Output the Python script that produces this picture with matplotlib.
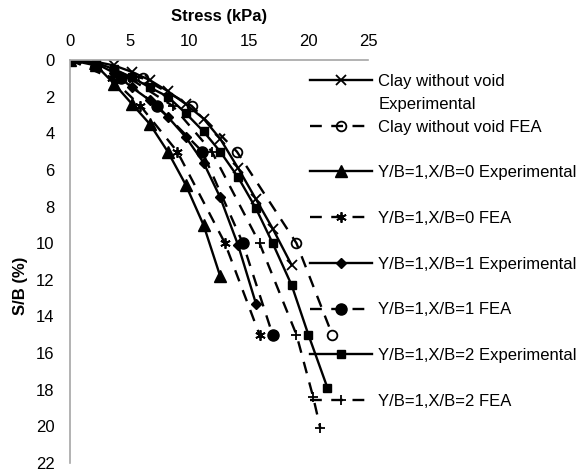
import matplotlib.pyplot as plt
from matplotlib.lines import Line2D

plt.rcParams['font.family'] = ['Liberation Sans', 'DejaVu Sans']

# experimental load steps (kPa) and settlement ratios (%)
exp_stress = [0, 2.2, 3.7, 5.2, 6.7, 8.2, 9.7, 11.2, 12.6, 14.1, 15.6, 17.0, 18.6, 20.0, 21.6]

clay_exp_sb = [0, 0.1, 0.3, 0.65, 1.1, 1.7, 2.4, 3.2, 4.3, 5.9, 7.6, 9.2, 11.2]
xb0_exp_sb = [0, 0.3, 1.3, 2.4, 3.5, 5.0, 6.8, 9.0, 11.8]
xb1_exp_sb = [0, 0.2, 0.7, 1.5, 2.2, 3.1, 4.2, 5.6, 7.5, 10.1, 13.3]
xb2_exp_sb = [0, 0.15, 0.5, 0.95, 1.5, 2.0, 2.9, 3.9, 5.0, 6.4, 8.1, 10.0, 12.3, 15.0, 17.9]

# FEA results
fea_sb = [0, 1, 2.5, 5, 10, 15]
clay_fea_stress = [0, 6.1, 10.2, 14.0, 19.0, 22.0]
xb0_fea_stress = [0, 3.5, 5.9, 9.0, 13.0, 15.9]
xb1_fea_stress = [0, 4.3, 7.3, 11.1, 14.5, 17.0]
xb2_fea_sb = [0, 1, 2.5, 5, 10, 15, 18.4, 20.1]
xb2_fea_stress = [0, 5.0, 8.6, 11.9, 15.9, 19.0, 20.4, 21.0]

labels = ["Clay without void", "Clay without void FEA",
          "Y/B=1,X/B=0 Experimental", "Y/B=1,X/B=0 FEA",
          "Y/B=1,X/B=1 Experimental", "Y/B=1,X/B=1 FEA",
          "Y/B=1,X/B=2 Experimental", "Y/B=1,X/B=2 FEA"]

fs = 12

fig = plt.figure(figsize=(5.82, 4.73), dpi=100)
ax = fig.add_axes([70/582, 1-463/473, 298/582, 403/473])

lw = 1.7
dash = (0, (5, 4))
solid = dict(color='black', lw=lw)
dashed = dict(color='black', lw=lw, linestyle=dash)

lines = []
n = len(clay_exp_sb)
lines.append(ax.plot(exp_stress[:n], clay_exp_sb, marker='x', ms=6.5, mew=1.3, **solid)[0])
lines.append(ax.plot(clay_fea_stress, fea_sb, marker='o', ms=7, mfc='none', mew=1.3, **dashed)[0])
n = len(xb0_exp_sb)
lines.append(ax.plot(exp_stress[:n], xb0_exp_sb, marker='^', ms=8, **solid)[0])
lines.append(ax.plot(xb0_fea_stress, fea_sb, marker=(6, 2, 0), ms=7.5, mew=1.3, **dashed)[0])
n = len(xb1_exp_sb)
lines.append(ax.plot(exp_stress[:n], xb1_exp_sb, marker='D', ms=5.5, **solid)[0])
lines.append(ax.plot(xb1_fea_stress, fea_sb, marker='o', ms=8, **dashed)[0])
n = len(xb2_exp_sb)
lines.append(ax.plot(exp_stress[:n], xb2_exp_sb, marker='s', ms=6, **solid)[0])
lines.append(ax.plot(xb2_fea_stress, xb2_fea_sb, marker='+', ms=7.5, mew=1.3, **dashed)[0])

ax.set_xlim(0, 25)
ax.set_ylim(22, 0)
ax.set_xticks(range(0, 26, 5))
ax.set_yticks(range(0, 23, 2))
ax.xaxis.tick_top()
ax.xaxis.set_label_position('top')
ax.tick_params(length=0, labelsize=fs)
ax.tick_params(axis='x', pad=8)
ax.tick_params(axis='y', pad=11)
for side in ['right', 'bottom']:
    ax.spines[side].set_visible(False)
for side in ['top', 'left']:
    ax.spines[side].set_color('#a6a6a6')
    ax.spines[side].set_linewidth(1.2)

ax.set_xlabel('Stress (kPa)', fontsize=fs, fontweight='bold', labelpad=9)
ax.set_ylabel('S/B (%)', fontsize=fs, fontweight='bold')
ax.yaxis.set_label_coords(-0.14, 0.44)

# legend rows: the first label wraps onto a second line, other entries leave a gap row
blank = Line2D([], [], linestyle='none')
handles = [lines[0], blank]
leg_labels = [labels[0], "Experimental"]
for i in range(1, len(lines)):
    handles.append(lines[i])
    leg_labels.append(labels[i])
    if i < len(lines) - 1:
        handles.append(blank)
        leg_labels.append("")

ax.legend(handles, leg_labels, loc='upper left', bbox_to_anchor=(310/582, 1-74/473),
          bbox_transform=fig.transFigure, frameon=False, fontsize=fs,
          handlelength=3.7, handletextpad=0.4, labelspacing=0.47,
          borderpad=0, borderaxespad=0, numpoints=1)

fig.savefig('out.png', dpi=100)
